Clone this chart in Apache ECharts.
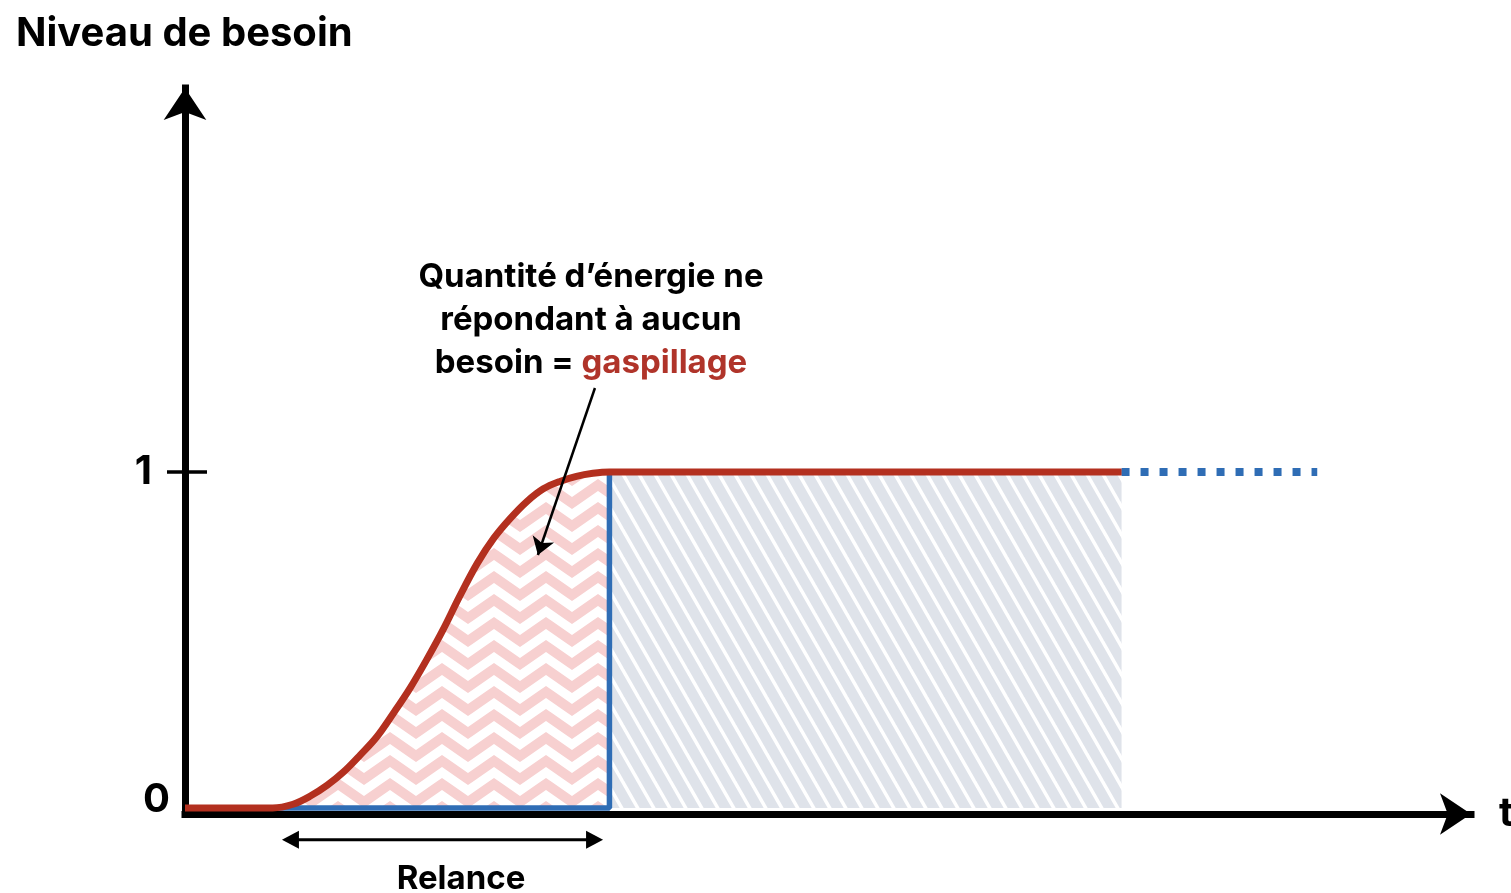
<!DOCTYPE html>
<html>
<head>
<meta charset="utf-8">
<script src="https://cdn.jsdelivr.net/npm/echarts@6/dist/echarts.min.js"></script>
<style>
html,body{margin:0;padding:0;background:#fff;}
#chart{width:1511px;height:893px;}
</style>
</head>
<body>
<div id="chart"></div>
<script>
// ---- data ----
const demandX = [0, 6.9, 8.5, 9.8, 11.2, 12.5, 13.8, 15.1, 16.4, 17.7, 19.0, 20.3, 21.6, 23.0, 24.3, 25.6, 26.9, 28.2, 29.5, 30.8, 32.1, 33.4, 73.7];
const demandY = [0, 0, 0.011, 0.034, 0.068, 0.108, 0.158, 0.212, 0.282, 0.356, 0.44, 0.53, 0.629, 0.728, 0.803, 0.862, 0.912, 0.95, 0.972, 0.987, 0.996, 1, 1];
const wasteEndX = 33.4;
const supplyX = [0, 33.4, 33.4, 73.7];
const supplyY = [0, 0, 1, 1];
const hatchX = [33.4, 73.7];
const hatchY = [1, 1];
const forecastX = [73.7, 89.1];
const forecastY = [1, 1];
const relanceX = [7.63, 32.9];
const relanceY = -0.095;
const pointerFrom = [32.26, 1.25];
const pointerTo = [27.77, 0.753];
const yTickValues = [0, 1];
const yTickMark = [1];
const titleText = 'Niveau de besoin';
const xName = 't';
const noteLines = ['Quantité d’énergie ne', 'répondant à aucun', 'besoin = '];
const noteRed = 'gaspillage';
const relanceText = 'Relance';

const zip = (xs, ys) => xs.map((x, i) => [x, ys[i]]);
const demand = zip(demandX, demandY);
const waste = demand.filter(p => p[0] <= wasteEndX);

// ---- patterns ----
function zigzagPattern() {
  const c = document.createElement('canvas');
  c.width = 52; c.height = 23;
  const g = c.getContext('2d');
  g.fillStyle = '#ffffff';
  g.fillRect(0, 0, 52, 23);
  g.strokeStyle = '#f7d0d0';
  g.lineWidth = 10;
  g.lineJoin = 'miter';
  for (const off of [-23, 0, 23]) {
    g.beginPath();
    g.moveTo(-26, 2 + off);
    g.lineTo(0, 20 + off);
    g.lineTo(26, 2 + off);
    g.lineTo(52, 20 + off);
    g.lineTo(78, 2 + off);
    g.stroke();
  }
  return c;
}
function stripePattern() {
  const c = document.createElement('canvas');
  c.width = 16; c.height = 28;
  const g = c.getContext('2d');
  g.fillStyle = '#dfe3ea';
  g.fillRect(0, 0, 16, 28);
  g.strokeStyle = '#ffffff';
  g.lineWidth = 3.5;
  for (let k = -2; k <= 2; k++) {
    g.beginPath();
    g.moveTo(k * 16 - 16, -28);
    g.lineTo(k * 16 + 32, 56);
    g.stroke();
  }
  return c;
}

const F = 'Inter, "Liberation Sans", Arial, sans-serif';
const RED = '#b3301f';
const BLUE = '#2f6db5';

const chart = echarts.init(document.getElementById('chart'));
const option = {
  animation: false,
  backgroundColor: '#ffffff',
  title: {
    text: titleText, left: 16, top: 14, padding: 0,
    textStyle: { fontFamily: F, fontWeight: 'bold', fontSize: 40, color: '#000' }
  },
  grid: { left: 185, right: 40, top: 88, bottom: 79, containLabel: false, outerBoundsMode: 'none' },
  xAxis: {
    type: 'value', min: 0, max: 101.2,
    name: xName, nameLocation: 'end', nameGap: 28,
    nameTextStyle: { fontFamily: F, fontWeight: 'bold', fontSize: 40, color: '#000' },
    axisLine: { onZero: false, symbol: ['none', 'arrow'], symbolSize: [31, 31],
      lineStyle: { color: '#000', width: 7, cap: 'square' } },
    axisTick: { show: false }, axisLabel: { show: false }, splitLine: { show: false }
  },
  yAxis: [
    {
      type: 'value', min: -0.018, max: 2.143,
      axisLine: { symbol: ['none', 'arrow'], symbolSize: [32, 32],
        lineStyle: { color: '#000', width: 7, cap: 'square' } },
      axisTick: { show: true, length: 18, customValues: yTickMark, lineStyle: { color: '#000', width: 3.5 } },
      axisLabel: {
        show: true, margin: 15, customValues: yTickValues,
        formatter: v => (v === 1 ? '{one|1}' : '{zero|0}'),
        rich: {
          one: { fontFamily: F, fontWeight: 'bold', fontSize: 40, color: '#000', padding: [0, 18, 0, 0] },
          zero: { fontFamily: F, fontWeight: 'bold', fontSize: 40, color: '#000', padding: [0, 0, 16, 0] }
        }
      },
      splitLine: { show: false }
    },
    {
      type: 'value', min: -0.018, max: 2.143, position: 'left',
      axisLine: { show: false },
      axisTick: { show: true, inside: true, length: 22, customValues: yTickMark, lineStyle: { color: '#000', width: 3.5 } },
      axisLabel: { show: false }, splitLine: { show: false }
    }
  ],
  series: [
    {
      name: 'waste', type: 'line', data: waste, smooth: 0.35,
      symbol: 'none', lineStyle: { width: 0, opacity: 0 }, z: 1,
      areaStyle: { color: { image: zigzagPattern(), repeat: 'repeat' }, opacity: 1 }
    },
    {
      name: 'hatch', type: 'line', data: zip(hatchX, hatchY),
      symbol: 'none', lineStyle: { width: 0, opacity: 0 }, z: 1,
      areaStyle: { color: { image: stripePattern(), repeat: 'repeat' }, opacity: 1 }
    },
    {
      name: 'supply', type: 'line', data: zip(supplyX, supplyY),
      symbol: 'none', z: 2, lineStyle: { color: BLUE, width: 5.5 }
    },
    {
      name: 'forecast', type: 'line', data: zip(forecastX, forecastY),
      symbol: 'none', z: 3, lineStyle: { color: BLUE, width: 8, type: [8, 11], cap: 'butt' }
    },
    {
      name: 'demand', type: 'line', data: demand, smooth: 0.35,
      symbol: 'none', z: 4, lineStyle: { color: RED, width: 7, join: 'round' },
      markLine: {
        silent: true, animation: false,
        label: { show: false },
        emphasis: { disabled: true },
        data: [
          [
            { coord: pointerFrom, symbol: 'none' },
            { coord: pointerTo, symbol: 'arrow', symbolSize: 17 }
          ]
        ],
        lineStyle: { color: '#000', width: 2.5, type: 'solid' }
      }
    }
  ]
};
chart.setOption(option);

// annotations placed through the chart's own scales
const a = chart.convertToPixel({ gridIndex: 0 }, [relanceX[0], relanceY]);
const b = chart.convertToPixel({ gridIndex: 0 }, [relanceX[1], relanceY]);
const hl = 17, hw = 9;
chart.setOption({
  graphic: [
    {
      type: 'text', x: 591, y: 320, z: 10,
      style: {
        text: '{b|' + noteLines[0] + '}\n{b|' + noteLines[1] + '}\n{b|' + noteLines[2] + '}{r|' + noteRed + '}',
        align: 'center', verticalAlign: 'middle',
        rich: {
          b: { fontFamily: F, fontWeight: 'bold', fontSize: 33, lineHeight: 43, fill: '#000', color: '#000' },
          r: { fontFamily: F, fontWeight: 'bold', fontSize: 33, lineHeight: 43, fill: '#b0342a', color: '#b0342a' }
        }
      }
    },
    {
      type: 'line', z: 10, silent: true,
      shape: { x1: a[0] + hl - 2, y1: a[1], x2: b[0] - hl + 2, y2: b[1] },
      style: { stroke: '#000', lineWidth: 3 }
    },
    {
      type: 'polygon', z: 10, silent: true,
      shape: { points: [[a[0], a[1]], [a[0] + hl, a[1] - hw], [a[0] + hl, a[1] + hw]] },
      style: { fill: '#000' }
    },
    {
      type: 'polygon', z: 10, silent: true,
      shape: { points: [[b[0], b[1]], [b[0] - hl, b[1] - hw], [b[0] - hl, b[1] + hw]] },
      style: { fill: '#000' }
    },
    {
      type: 'text', x: 461, y: 879, z: 10,
      style: { text: relanceText, align: 'center', verticalAlign: 'middle',
        fontFamily: F, fontWeight: 'bold', fontSize: 33, fill: '#000' }
    }
  ]
});
</script>
</body>
</html>
